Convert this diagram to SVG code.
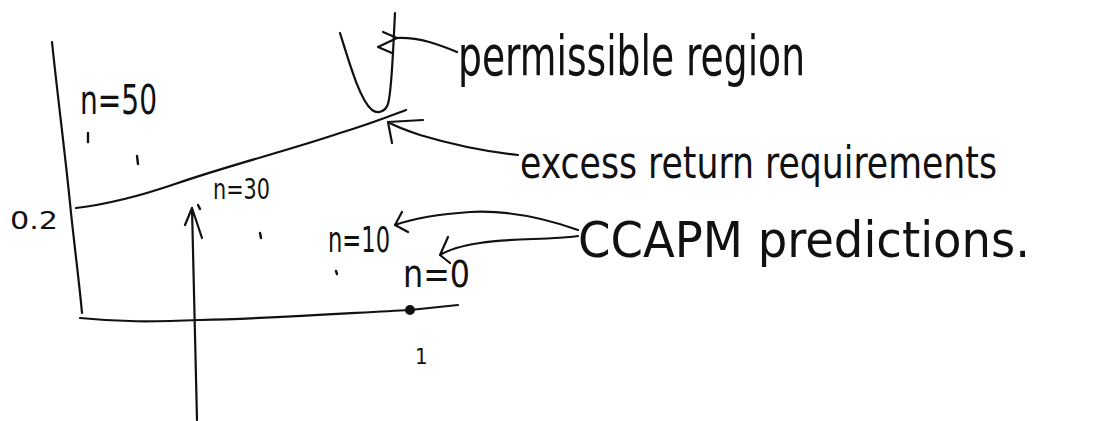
<svg xmlns="http://www.w3.org/2000/svg" width="1106" height="421" viewBox="0 0 1106 421">
<style>
.ln{fill:none;stroke:#111;stroke-width:2.2;stroke-linecap:round;stroke-linejoin:round}
.tx{font-family:"DejaVu Sans Condensed","Liberation Sans",sans-serif;fill:#111;font-weight:normal}
.dot{fill:none;stroke:#111;stroke-width:2.4;stroke-linecap:round}
</style>
<rect width="1106" height="421" fill="#fff"/>
<g id="axes">
<path class="ln" d="M52,42 C58,100 66,160 71,213 C75,250 80,290 82,313"/>
<path class="ln" d="M80,318 C120,322 150,322 200,320 C280,318 350,313 410,310 L458,305"/>
<circle cx="410" cy="310" r="5" fill="#111"/>
</g>
<g id="curve-excess">
<path class="ln" d="M76,208 C110,204 140,196 175,184 C230,165 290,150 340,133 C370,124 390,116 406,110"/>
</g>
<g id="permissible-shape">
<path class="ln" d="M340,33 C350,65 360,100 372,110 C378,114 385,112 388,104 C392,90 393,50 395,13"/>
</g>
<g id="points">
<path class="dot" d="M88,133 L88,142"/>
<path class="dot" d="M137,156 L138,164"/>
<path class="dot" d="M198,205 L200,209"/>
<path class="dot" d="M260,233 L261,238"/>
<path class="dot" d="M336,271 L337,274"/>
</g>
<g id="labels">
<text id="lbl-02" class="tx" x="10" y="229" font-size="24" textLength="48" lengthAdjust="spacingAndGlyphs">0.2</text>
<text id="lbl-n50" class="tx" x="80" y="114" font-size="40" textLength="77" lengthAdjust="spacingAndGlyphs">n=50</text>
<text id="lbl-n30" class="tx" x="213" y="199" font-size="28" textLength="57" lengthAdjust="spacingAndGlyphs">n=30</text>
<text id="lbl-n10" class="tx" x="328" y="252" font-size="36" textLength="62" lengthAdjust="spacingAndGlyphs">n=10</text>
<text id="lbl-n0" class="tx" x="403" y="287" font-size="38" textLength="67" lengthAdjust="spacingAndGlyphs">n=0</text>
<text id="lbl-1" class="tx" x="415" y="364" font-size="22">1</text>
</g>
<g id="node-permissible">
<text class="tx" x="458" y="75" font-size="56" textLength="347" lengthAdjust="spacingAndGlyphs">permissible region</text>
</g>
<g id="node-excess">
<text class="tx" x="520" y="178" font-size="44" textLength="477" lengthAdjust="spacingAndGlyphs">excess return requirements</text>
</g>
<g id="node-ccapm">
<text class="tx" x="578" y="257" font-size="50" textLength="452" lengthAdjust="spacingAndGlyphs">CCAPM predictions.</text>
</g>
<g id="connectors">
<path class="ln" d="M457,52 C440,45 420,37 397,38 L378,47 L392,53 M397,38 L383,32"/>
<path class="ln" d="M518,155 C490,152 460,147 420,135 C405,130 395,126 388,122 M388,122 L423,120 M388,122 L392,143"/>
<path class="ln" d="M578,230 C550,220 510,210 470,212 C440,214 415,218 395,225 M395,225 L402,212 M395,225 L408,232"/>
<path class="ln" d="M578,236 C550,240 510,238 480,243 C460,246 448,250 440,255 M440,255 L448,237 M440,255 L450,263"/>
<path class="ln" d="M197,420 C196,350 194,280 192,208 M192,208 L185,225 M192,208 L202,238"/>
</g>
</svg>
